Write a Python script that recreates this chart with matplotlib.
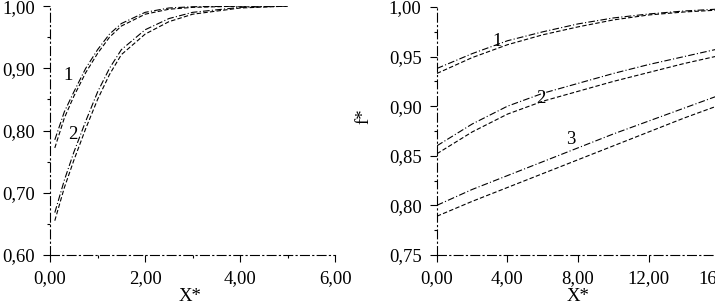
import numpy as np
import matplotlib.pyplot as plt
from matplotlib.ticker import FuncFormatter, MultipleLocator

# left panel
xl = [0.1, 0.3, 0.5, 0.75, 1.0, 1.25, 1.5, 2.0, 2.5, 3.0, 4.0, 5.0]
left_1a = [0.785, 0.83, 0.862, 0.90, 0.93, 0.955, 0.972, 0.99, 0.997, 0.999, 1.0, 1.0]
left_1b = [0.772, 0.82, 0.855, 0.893, 0.924, 0.95, 0.968, 0.987, 0.995, 0.998, 1.0, 1.0]
left_2a = [0.668, 0.72, 0.765, 0.815, 0.862, 0.90, 0.93, 0.962, 0.98, 0.99, 0.998, 1.0]
left_2b = [0.655, 0.708, 0.752, 0.803, 0.85, 0.89, 0.922, 0.955, 0.975, 0.987, 0.997, 1.0]

# right panel
xr = [0, 2, 4, 6, 8, 10, 12, 14, 16]
right_1a = [0.938, 0.953, 0.966, 0.975, 0.983, 0.989, 0.993, 0.996, 0.998]
right_1b = [0.933, 0.949, 0.962, 0.972, 0.980, 0.987, 0.992, 0.995, 0.997]
right_2a = [0.860, 0.882, 0.900, 0.913, 0.923, 0.933, 0.942, 0.950, 0.958]
right_2b = [0.852, 0.874, 0.892, 0.905, 0.915, 0.925, 0.934, 0.943, 0.951]
right_3a = [0.800, 0.816, 0.830, 0.844, 0.858, 0.872, 0.885, 0.898, 0.911]
right_3b = [0.789, 0.804, 0.818, 0.832, 0.846, 0.860, 0.874, 0.888, 0.901]

plt.rcParams['font.family'] = ['Liberation Serif', 'DejaVu Serif']
plt.rcParams['font.size'] = 13.5

comma = FuncFormatter(lambda v, p: f"{v:.2f}".replace('.', ','))

fig = plt.figure(figsize=(7.15, 3.06), dpi=100)
ax1 = fig.add_axes([0.070, 0.167, 0.399, 0.813])
# right axes runs slightly past the figure edge, so "16,00" is cut off like the scan
ax2 = fig.add_axes([0.611, 0.167, 0.395, 0.810])

upper = dict(color='black', lw=0.8, ls=(0, (6, 2, 1, 2)))
lower = dict(color='black', lw=0.8, ls=(0, (4, 2)))

ax1.plot(xl, left_1a, **upper)
ax1.plot(xl, left_1b, **lower)
ax1.plot(xl, left_2a, **upper)
ax1.plot(xl, left_2b, **lower)
ax1.set_xlim(0, 6)
ax1.set_ylim(0.6, 1.0)
ax1.set_xticks([0, 2, 4, 6])
ax1.set_yticks([0.6, 0.7, 0.8, 0.9, 1.0])
ax1.xaxis.set_minor_locator(MultipleLocator(1))
ax1.yaxis.set_minor_locator(MultipleLocator(0.05))
ax1.text(0.38, 0.889, "1", ha='center', va='center')
ax1.text(0.48, 0.793, "2", ha='center', va='center')

ax2.plot(xr, right_1a, **upper)
ax2.plot(xr, right_1b, **lower)
ax2.plot(xr, right_2a, **upper)
ax2.plot(xr, right_2b, **lower)
ax2.plot(xr, right_3a, **upper)
ax2.plot(xr, right_3b, **lower)
ax2.set_xlim(0, 16)
ax2.set_ylim(0.75, 1.0)
ax2.set_xticks([0, 4, 8, 12, 16])
ax2.set_yticks([0.75, 0.8, 0.85, 0.9, 0.95, 1.0])
ax2.yaxis.set_minor_locator(MultipleLocator(0.025))
ax2.text(3.4, 0.965, "1", ha='center', va='center')
ax2.text(5.9, 0.908, "2", ha='center', va='center')
ax2.text(7.6, 0.866, "3", ha='center', va='center')

for ax in (ax1, ax2):
    ax.xaxis.set_major_formatter(comma)
    ax.yaxis.set_major_formatter(comma)
    ax.spines['top'].set_visible(False)
    ax.spines['right'].set_visible(False)
    for s in ('left', 'bottom'):
        ax.spines[s].set_linestyle((0, (8, 3, 1, 3)))
        ax.spines[s].set_linewidth(0.8)
    ax.tick_params(which='both', direction='out', width=0.8)
    ax.tick_params(which='major', length=5, pad=6)
    ax.tick_params(which='minor', length=2.5)
    ax.patch.set_visible(False)

fig.text(0.266, 0.03, "X*", ha='center', va='center')
fig.text(0.808, 0.03, "X*", ha='center', va='center')
fig.text(0.509, 0.62, "f*", rotation=90, ha='center', va='center')

fig.savefig("out.png", dpi=100)
